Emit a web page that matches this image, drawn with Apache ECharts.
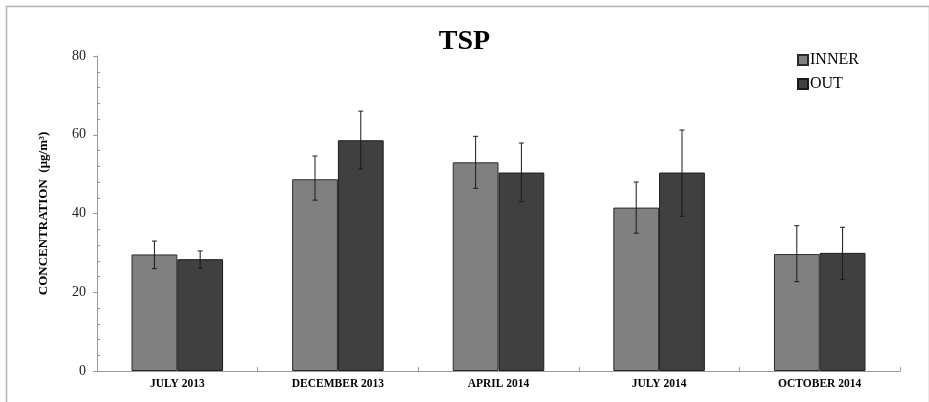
<!DOCTYPE html>
<html>
<head>
<meta charset="utf-8">
<script src="https://cdn.jsdelivr.net/npm/echarts@6/dist/echarts.min.js"></script>
<style>html,body{margin:0;padding:0;background:#fff}#c{width:929px;height:402px}</style>
</head>
<body>
<div id="c"></div>
<script>
var categories = ['JULY 2013', 'DECEMBER 2013', 'APRIL 2014', 'JULY 2014', 'OCTOBER 2014'];
var innerValues = [29.6, 48.7, 53.0, 41.5, 29.7];
var outValues = [28.4, 58.6, 50.4, 50.4, 30.0];
var innerLow = [26.0, 43.4, 46.4, 35.0, 22.7];
var innerHigh = [33.0, 54.6, 59.6, 48.0, 36.9];
var outLow = [26.1, 51.3, 43.0, 39.3, 23.3];
var outHigh = [30.5, 66.0, 57.9, 61.2, 36.5];
var yTicks = [0, 20, 40, 60, 80];

var serif = '"Liberation Serif", "DejaVu Serif", serif';
var GAP = 0.43;

function errData(lo, hi) {
  return categories.map(function (c, i) { return [i, lo[i], hi[i]]; });
}
function errRender(side) {
  return function (params, api) {
    var i = api.value(0);
    var pLo = api.coord([i, api.value(1)]);
    var pHi = api.coord([i, api.value(2)]);
    var band = api.size([1, 0])[0];
    var off = side * band * (1 - GAP) / 4;
    var x = pLo[0] + off;
    var cap = 2.5;
    var st = { stroke: '#1a1a1a', lineWidth: 1 };
    return {
      type: 'group',
      children: [
        { type: 'line', shape: { x1: x, y1: pLo[1], x2: x, y2: pHi[1] }, style: st },
        { type: 'line', shape: { x1: x - cap, y1: pLo[1], x2: x + cap, y2: pLo[1] }, style: st },
        { type: 'line', shape: { x1: x - cap, y1: pHi[1], x2: x + cap, y2: pHi[1] }, style: st }
      ]
    };
  };
}

var chart = echarts.init(document.getElementById('c'));
chart.setOption({
  animation: false,
  backgroundColor: '#fff',
  graphic: [{
    type: 'rect', left: 4, top: 4, z: -10,
    shape: { x: 0, y: 0, width: 923, height: 430 },
    style: { fill: 'none', stroke: '#b0b0b0', lineWidth: 1.5 }
  }],
  title: {
    text: 'TSP', left: 'center', top: 23,
    textStyle: { fontFamily: serif, fontSize: 28, fontWeight: 'bold', color: '#000' }
  },
  legend: {
    orient: 'vertical', left: 792, top: 47, itemWidth: 10, itemHeight: 10, itemGap: 8,
    icon: 'rect',
    textStyle: { fontFamily: serif, fontSize: 16, color: '#000', padding: [0, 0, 0, -3] },
    data: ['INNER', 'OUT']
  },
  grid: { left: 97, right: 29, top: 56, bottom: 31 },
  xAxis: {
    type: 'category', data: categories,
    axisLine: { lineStyle: { color: '#999', width: 1 } },
    axisTick: { show: true, length: 4, inside: true, lineStyle: { color: '#999' } },
    axisLabel: { fontFamily: serif, fontSize: 11.5, fontWeight: 'bold', color: '#000', margin: 7 }
  },
  yAxis: [{
    type: 'value', min: 0, max: 80, interval: 20,
    name: 'CONCENTRATION  (\u03bcg/m\u00b3)', nameLocation: 'middle', nameGap: 47, nameRotate: 90,
    nameTextStyle: { fontFamily: serif, fontSize: 13, fontWeight: 'bold', color: '#000' },
    axisLine: { show: true, lineStyle: { color: '#999' } },
    axisTick: { show: true, length: 4, lineStyle: { color: '#999' } },
    axisLabel: {
      fontFamily: serif, fontSize: 14, color: '#222', margin: 11,
      formatter: function (v) { return yTicks.indexOf(v) >= 0 ? String(v) : ''; }
    },
    splitLine: { show: false }
  }, {
    type: 'value', min: 0, max: 80, interval: 20, position: 'left',
    axisLine: { show: false },
    axisTick: { show: false, inside: true },
    minorTick: { show: true, splitNumber: 5, length: 3, lineStyle: { color: '#999' } },
    axisLabel: { show: false },
    splitLine: { show: false }
  }],
  series: [{
    name: 'INNER', type: 'bar', data: innerValues, barGap: '0%', barCategoryGap: (GAP * 100) + '%',
    itemStyle: { color: '#808080', borderColor: '#2a2a2a', borderWidth: 1 }
  }, {
    name: 'OUT', type: 'bar', data: outValues, barGap: '0%', barCategoryGap: (GAP * 100) + '%',
    itemStyle: { color: '#404040', borderColor: '#1a1a1a', borderWidth: 1 }
  }, {
    type: 'custom', renderItem: errRender(-1), data: errData(innerLow, innerHigh), z: 10,
    encode: { x: 0, y: [1, 2] }
  }, {
    type: 'custom', renderItem: errRender(1), data: errData(outLow, outHigh), z: 10,
    encode: { x: 0, y: [1, 2] }
  }]
});
</script>
</body>
</html>
